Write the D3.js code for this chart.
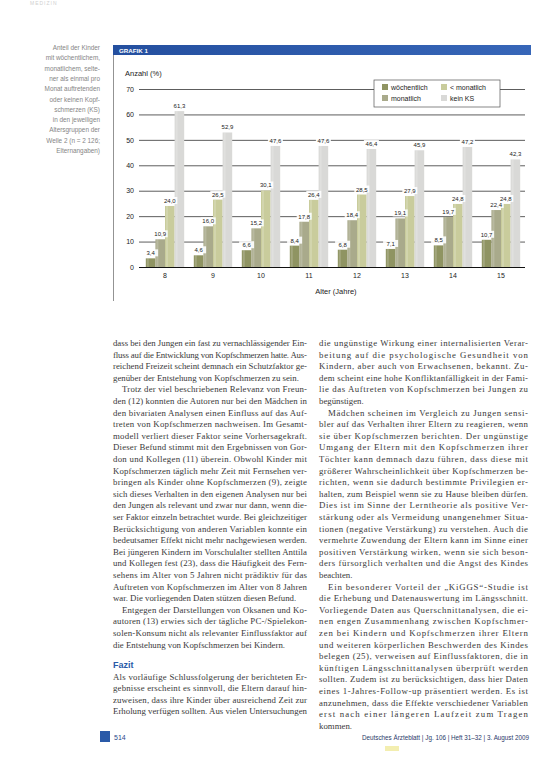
<!DOCTYPE html>
<html><head><meta charset="utf-8">
<script src="https://cdn.jsdelivr.net/npm/d3@7"></script>
<style>html,body{margin:0;padding:0;background:#fff;}svg{display:block;}</style>
</head><body>
<script>
// ---- data ----
const ages = ["8","9","10","11","12","13","14","15"];
const seriesNames = ["wöchentlich","monatlich","< monatlich","kein KS"];
const weekly      = [3.4, 4.6, 6.6, 8.4, 6.8, 7.1, 8.5, 10.7];
const monthly     = [10.9, 16.0, 15.2, 17.8, 18.4, 19.1, 19.7, 22.4];
const lessMonthly = [24.0, 26.5, 30.1, 26.4, 28.5, 27.9, 24.8, 24.8];
const noHeadache  = [61.3, 52.9, 47.6, 47.6, 46.4, 45.9, 47.2, 42.3];
const yTicks = [0, 10, 20, 30, 40, 50, 60, 70];
const seriesValues = [weekly, monthly, lessMonthly, noHeadache];
const seriesColors = ["#8f9462", "#a9aa8b", "#c9cc9c", "#d9d9d7"];

const captionLines = ["Anteil der Kinder","mit wöchentlichem,","monatlichem, selte-","ner als einmal pro","Monat auftretenden","oder keinen Kopf-","schmerzen (KS)","in den jeweiligen","Altersgruppen der","Welle 2 (n = 2 126;","Elternangaben)"];

// text columns: [text, justify, indent]
const leftCol = [
 ["dass bei den Jungen ein fast zu vernachlässigender Ein-",1,0],
 ["fluss auf die Entwicklung von Kopfschmerzen hatte. Aus-",1,0],
 ["reichend Freizeit scheint demnach ein Schutzfaktor ge-",1,0],
 ["genüber der Entstehung von Kopfschmerzen zu sein.",0,0],
 ["Trotz der viel beschriebenen Relevanz von Freun-",1,1],
 ["den (12) konnten die Autoren nur bei den Mädchen in",1,0],
 ["den bivariaten Analysen einen Einfluss auf das Auf-",1,0],
 ["treten von Kopfschmerzen nachweisen. Im Gesamt-",1,0],
 ["modell verliert dieser Faktor seine Vorhersagekraft.",1,0],
 ["Dieser Befund stimmt mit den Ergebnissen von Gor-",1,0],
 ["don und Kollegen (11) überein. Obwohl Kinder mit",1,0],
 ["Kopfschmerzen täglich mehr Zeit mit Fernsehen ver-",1,0],
 ["bringen als Kinder ohne Kopfschmerzen (9), zeigte",1,0],
 ["sich dieses Verhalten in den eigenen Analysen nur bei",1,0],
 ["den Jungen als relevant und zwar nur dann, wenn die-",1,0],
 ["ser Faktor einzeln betrachtet wurde. Bei gleichzeitiger",1,0],
 ["Berücksichtigung von anderen Variablen konnte ein",1,0],
 ["bedeutsamer Effekt nicht mehr nachgewiesen werden.",1,0],
 ["Bei jüngeren Kindern im Vorschulalter stellten Anttila",1,0],
 ["und Kollegen fest (23), dass die Häufigkeit des Fern-",1,0],
 ["sehens im Alter von 5 Jahren nicht prädiktiv für das",1,0],
 ["Auftreten von Kopfschmerzen im Alter von 8 Jahren",1,0],
 ["war. Die vorliegenden Daten stützen diesen Befund.",0,0],
 ["Entgegen der Darstellungen von Oksanen und Ko-",1,1],
 ["autoren (13) erwies sich der tägliche PC-/Spielekon-",1,0],
 ["solen-Konsum nicht als relevanter Einflussfaktor auf",1,0],
 ["die Entstehung von Kopfschmerzen bei Kindern.",0,0]
];
const fazitLines = [
 ["Als vorläufige Schlussfolgerung der berichteten Er-",1,0],
 ["gebnisse erscheint es sinnvoll, die Eltern darauf hin-",1,0],
 ["zuweisen, dass ihre Kinder über ausreichend Zeit zur",1,0],
 ["Erholung verfügen sollten. Aus vielen Untersuchungen",1,0]
];
const rightCol = [
 ["die ungünstige Wirkung einer internalisierten Verar-",1,0],
 ["beitung auf die psychologische Gesundheit von",1,0],
 ["Kindern, aber auch von Erwachsenen, bekannt. Zu-",1,0],
 ["dem scheint eine hohe Konfliktanfälligkeit in der Fami-",1,0],
 ["lie das Auftreten von Kopfschmerzen bei Jungen zu",1,0],
 ["begünstigen.",0,0],
 ["Mädchen scheinen im Vergleich zu Jungen sensi-",1,1],
 ["bler auf das Verhalten ihrer Eltern zu reagieren, wenn",1,0],
 ["sie über Kopfschmerzen berichten. Der ungünstige",1,0],
 ["Umgang der Eltern mit den Kopfschmerzen ihrer",1,0],
 ["Töchter kann demnach dazu führen, dass diese mit",1,0],
 ["größerer Wahrscheinlichkeit über Kopfschmerzen be-",1,0],
 ["richten, wenn sie dadurch bestimmte Privilegien er-",1,0],
 ["halten, zum Beispiel wenn sie zu Hause bleiben dürfen.",1,0],
 ["Dies ist im Sinne der Lerntheorie als positive Ver-",1,0],
 ["stärkung oder als Vermeidung unangenehmer Situa-",1,0],
 ["tionen (negative Verstärkung) zu verstehen. Auch die",1,0],
 ["vermehrte Zuwendung der Eltern kann im Sinne einer",1,0],
 ["positiven Verstärkung wirken, wenn sie sich beson-",1,0],
 ["ders fürsorglich verhalten und die Angst des Kindes",1,0],
 ["beachten.",0,0],
 ["Ein besonderer Vorteil der „KiGGS“-Studie ist",1,1],
 ["die Erhebung und Datenauswertung im Längsschnitt.",1,0],
 ["Vorliegende Daten aus Querschnittanalysen, die ei-",1,0],
 ["nen engen Zusammenhang zwischen Kopfschmer-",1,0],
 ["zen bei Kindern und Kopfschmerzen ihrer Eltern",1,0],
 ["und weiteren körperlichen Beschwerden des Kindes",1,0],
 ["belegen (25), verweisen auf Einflussfaktoren, die in",1,0],
 ["künftigen Längsschnittanalysen überprüft werden",1,0],
 ["sollten. Zudem ist zu berücksichtigen, dass hier Daten",1,0],
 ["eines 1-Jahres-Follow-up präsentiert werden. Es ist",1,0],
 ["anzunehmen, dass die Effekte verschiedener Variablen",1,0],
 ["erst nach einer längeren Laufzeit zum Tragen",1,0],
 ["kommen.",0,0]
];

// ---- drawing ----
const W = 559, H = 758;
const svg = d3.select("body").append("svg").attr("width", W).attr("height", H)
  .style("font-family", "'Liberation Sans', Arial, sans-serif");

// faint running head
svg.append("text").attr("x", 30).attr("y", 5).attr("font-size", 5).attr("fill", "#cfcfcf")
  .attr("letter-spacing", 1).text("MEDIZIN");

// left caption
svg.append("g").selectAll("text").data(captionLines).join("text")
  .attr("x", 100).attr("y", (d, i) => 50 + i * 10.3)
  .attr("text-anchor", "end").attr("font-size", 6.4).attr("fill", "#858585").text(d => d);

// chart frame
svg.append("line").attr("x1", 113.5).attr("x2", 113.5).attr("y1", 45).attr("y2", 301)
  .attr("stroke", "#777").attr("stroke-width", 0.8);
const grad = svg.append("defs").append("linearGradient").attr("id", "hdr");
grad.append("stop").attr("offset", "0%").attr("stop-color", "#244f9f");
grad.append("stop").attr("offset", "100%").attr("stop-color", "#3766b8");
svg.append("rect").attr("x", 113).attr("y", 45).attr("width", 418).attr("height", 10).attr("fill", "url(#hdr)");
svg.append("text").attr("x", 119).attr("y", 52.6).attr("font-size", 6.2).attr("font-weight", "bold")
  .attr("fill", "#fff").text("GRAFIK 1");

const x = d3.scaleBand().domain(ages).range([141, 525]).paddingInner(0.2).paddingOuter(0.1);
const xs = d3.scaleBand().domain(seriesNames).range([0, x.bandwidth()]);
const y = d3.scaleLinear().domain([0, 70]).range([267, 89]);

svg.append("text").attr("x", 125).attr("y", 76).attr("font-size", 7.5).attr("fill", "#222").text("Anzahl (%)");

const yAxis = svg.append("g").attr("transform", "translate(139,0)")
  .call(d3.axisLeft(y).tickValues(yTicks).tickSize(-(525 - 139)).tickPadding(5).tickFormat(d3.format("d")));
yAxis.select(".domain").remove();
yAxis.selectAll(".tick line").attr("stroke", d => d === 0 ? "#111" : "#333").attr("stroke-width", d => d === 0 ? 1.2 : 0.8);
yAxis.selectAll(".tick text").attr("font-size", 7).attr("fill", "#222").attr("font-family", "'Liberation Sans', Arial, sans-serif");

const xAxis = svg.append("g").attr("transform", "translate(0,267)")
  .call(d3.axisBottom(x).tickSize(0).tickPadding(6));
xAxis.select(".domain").remove();
xAxis.selectAll(".tick text").attr("font-size", 7).attr("fill", "#222").attr("font-family", "'Liberation Sans', Arial, sans-serif");

svg.append("text").attr("x", 336).attr("y", 294).attr("text-anchor", "middle").attr("font-size", 7.5)
  .attr("fill", "#222").text("Alter (Jahre)");

// bars
const bars = [];
seriesValues.forEach((vals, si) => vals.forEach((v, ai) => bars.push({ s: seriesNames[si], si, age: ages[ai], v })));
svg.append("g").selectAll("rect").data(bars).join("rect")
  .attr("x", d => x(d.age) + xs(d.s))
  .attr("y", d => y(d.v))
  .attr("width", xs.bandwidth())
  .attr("height", d => y(0) - y(d.v))
  .attr("fill", d => seriesColors[d.si]);
svg.append("g").selectAll("rect").data(bars).join("rect")
  .attr("x", d => x(d.age) + xs(d.s) + 1)
  .attr("y", d => y(d.v))
  .attr("width", 2)
  .attr("height", d => y(0) - y(d.v))
  .attr("fill", "#fff").attr("opacity", 0.18);

// value labels
const fmt = v => d3.format(".1f")(v).replace(".", ",");
const lab = svg.append("g").selectAll("g").data(bars).join("g")
  .attr("transform", d => `translate(${x(d.age) + xs(d.s) + xs.bandwidth() / 2},${y(d.v) - 3})`);
lab.append("rect").attr("x", -7.5).attr("y", -6).attr("width", 15).attr("height", 7).attr("fill", "#fff").attr("opacity", 0.9);
lab.append("text").attr("text-anchor", "middle").attr("font-size", 6).attr("fill", "#222").text(d => fmt(d.v));

// legend
const lg = svg.append("g").attr("transform", "translate(374,80)");
lg.append("rect").attr("width", 126).attr("height", 27).attr("fill", "#fff").attr("stroke", "#555").attr("stroke-width", 0.7);
const legendOrder = [0, 2, 1, 3];
legendOrder.forEach((si, k) => {
  const col = k % 2, row = Math.floor(k / 2);
  const gx = 8 + col * 59, gy = 7.5 + row * 11;
  lg.append("rect").attr("x", gx).attr("y", gy - 3.5).attr("width", 6).attr("height", 6).attr("fill", seriesColors[si]);
  lg.append("text").attr("x", gx + 9).attr("y", gy + 2.5).attr("font-size", 7).attr("fill", "#222").text(seriesNames[si]);
});

// body text
const LH = 11.6;
function column(lines, x0, width, y0) {
  const g = svg.append("g").attr("font-family", "'Liberation Serif', 'Times New Roman', serif")
    .attr("font-size", 8.8).attr("fill", "#3a3a3a");
  lines.forEach((l, i) => {
    const ind = l[2] ? 9 : 0;
    const t = g.append("text").attr("x", x0 + ind).attr("y", y0 + i * LH).text(l[0]);
    if (l[1]) t.attr("textLength", width - ind).attr("lengthAdjust", "spacing");
  });
}
column(leftCol, 113, 194, 346);
svg.append("text").attr("x", 113).attr("y", 668).attr("font-size", 9).attr("font-weight", "bold")
  .attr("fill", "#2a5aa8").text("Fazit");
column(fazitLines, 113, 194, 679.5);
column(rightCol, 319, 209, 346);

// footer
svg.append("rect").attr("x", 100).attr("y", 731).attr("width", 10).attr("height", 11).attr("fill", "#2a5aa8");
svg.append("text").attr("x", 114).attr("y", 740).attr("font-size", 7).attr("fill", "#2a4a8a").text("514");
svg.append("text").attr("x", 529).attr("y", 740).attr("text-anchor", "end").attr("font-size", 6.3).attr("fill", "#2a3a6a")
  .text("Deutsches Ärzteblatt | Jg. 106 | Heft 31–32 | 3. August 2009");
svg.append("rect").attr("x", 385).attr("y", 746).attr("width", 14).attr("height", 5).attr("fill", "#f3eeb0");
</script>
</body></html>
